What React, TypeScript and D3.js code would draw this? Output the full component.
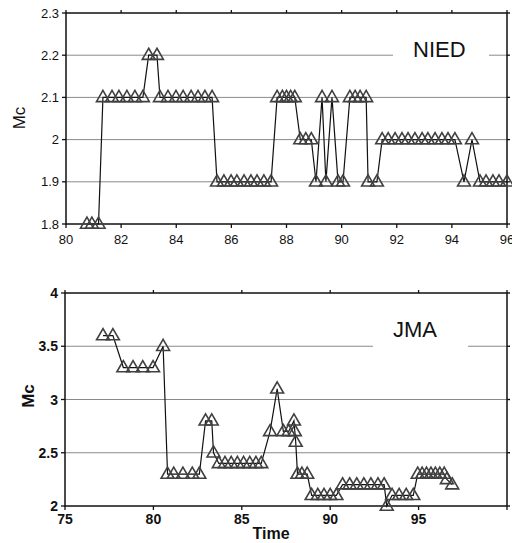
import React from "react";
import * as d3 from "d3";

// NIED series
const niedTime = [
  80.76, 80.94, 81.18,
  81.34, 81.67, 81.92, 82.21, 82.5, 82.79,
  83.0, 83.3,
  83.41, 83.7, 83.99, 84.25, 84.54, 84.79, 85.04, 85.3,
  85.48, 85.73, 85.99, 86.2, 86.46, 86.71, 86.93, 87.18, 87.44,
  87.66, 87.85, 88.0, 88.15, 88.3,
  88.5, 88.7, 88.9,
  89.07, 89.29, 89.43, 89.65, 89.87, 90.05,
  90.3, 90.49, 90.67, 90.89,
  90.96, 91.28,
  91.47, 91.69, 91.94, 92.19, 92.41, 92.66, 92.92, 93.13, 93.39, 93.64, 93.86, 94.11,
  94.44, 94.73,
  95.02, 95.24, 95.49, 95.71, 96.0,
];
const niedMc = [
  1.8, 1.8, 1.8,
  2.1, 2.1, 2.1, 2.1, 2.1, 2.1,
  2.2, 2.2,
  2.1, 2.1, 2.1, 2.1, 2.1, 2.1, 2.1, 2.1,
  1.9, 1.9, 1.9, 1.9, 1.9, 1.9, 1.9, 1.9, 1.9,
  2.1, 2.1, 2.1, 2.1, 2.1,
  2.0, 2.0, 2.0,
  1.9, 2.1, 1.9, 2.1, 1.9, 1.9,
  2.1, 2.1, 2.1, 2.1,
  1.9, 1.9,
  2.0, 2.0, 2.0, 2.0, 2.0, 2.0, 2.0, 2.0, 2.0, 2.0, 2.0, 2.0,
  1.9, 2.0,
  1.9, 1.9, 1.9, 1.9, 1.9,
];

// JMA series
const jmaTime = [
  77.15, 77.71,
  78.3, 78.85, 79.4, 79.98,
  80.55,
  80.8, 81.15, 81.67, 82.2, 82.6,
  82.95, 83.3, 83.4,
  83.7, 84.05, 84.4, 84.75, 85.1, 85.45, 85.8, 86.1,
  86.6, 87.0, 87.35, 87.65, 87.95, 88.0, 88.05,
  88.15, 88.4, 88.7,
  88.95, 89.3, 89.65, 90.0, 90.35,
  90.7, 91.1, 91.5, 91.9, 92.3, 92.7, 93.05,
  93.2,
  93.5, 93.9, 94.3, 94.7,
  94.95, 95.2, 95.45, 95.7, 95.95, 96.2, 96.45,
  96.6, 96.9,
];
const jmaMc = [
  3.6, 3.6,
  3.3, 3.3, 3.3, 3.3,
  3.5,
  2.3, 2.3, 2.3, 2.3, 2.3,
  2.8, 2.8, 2.5,
  2.4, 2.4, 2.4, 2.4, 2.4, 2.4, 2.4, 2.4,
  2.7, 3.1, 2.7, 2.7, 2.8, 2.7, 2.6,
  2.3, 2.3, 2.3,
  2.1, 2.1, 2.1, 2.1, 2.1,
  2.2, 2.2, 2.2, 2.2, 2.2, 2.2, 2.2,
  2.0,
  2.1, 2.1, 2.1, 2.1,
  2.3, 2.3, 2.3, 2.3, 2.3, 2.3, 2.3,
  2.25, 2.2,
];

const niedXTicks = [80, 82, 84, 86, 88, 90, 92, 94, 96];
const niedYTicks = [1.8, 1.9, 2.0, 2.1, 2.2, 2.3];
const jmaXTicks = [75, 80, 85, 90, 95];
const jmaYTicks = [2, 2.5, 3, 3.5, 4];

const FONT = "'Liberation Sans', Arial, Helvetica, sans-serif";

type PanelProps = {
  xs: number[];
  ys: number[];
  xDomain: [number, number];
  yDomain: [number, number];
  xTicks: number[];
  xTickLabels: number[];
  yTicks: number[];
  left: number;
  right: number;
  top: number;
  bottom: number;
  label: string;
  labelX: number;
  labelBaseline: number;
  gapFrom: number;
  gapTo: number;
  gapValue: number;
  bold: boolean;
  yFmt: (v: number) => string;
  xLabelBaseline: number;
  tickFont: number;
  mcX: number;
  mcY: number;
};

function Panel(p: PanelProps) {
  const x = d3.scaleLinear().domain(p.xDomain).range([p.left, p.right]);
  const y = d3.scaleLinear().domain(p.yDomain).range([p.bottom, p.top]);
  const pts = p.xs.map((t, i) => [t, p.ys[i]] as [number, number]);
  const line = d3
    .line<[number, number]>()
    .x((d) => x(d[0]))
    .y((d) => y(d[1]));
  const tri = d3.symbol().type(d3.symbolTriangle).size(72)();
  const weight = p.bold ? "bold" : "normal";
  const inner = p.yTicks.filter(
    (v) => v !== p.yDomain[0] && v !== p.yDomain[1]
  );
  return (
    <g>
      {inner.map((v) =>
        v === p.gapValue ? (
          <g key={"g" + v}>
            <line x1={p.left} x2={p.gapFrom} y1={y(v)} y2={y(v)} stroke="#8a8a8a" strokeWidth={1} />
            <line x1={p.gapTo} x2={p.right} y1={y(v)} y2={y(v)} stroke="#8a8a8a" strokeWidth={1} />
          </g>
        ) : (
          <line key={"g" + v} x1={p.left} x2={p.right} y1={y(v)} y2={y(v)} stroke="#8a8a8a" strokeWidth={1} />
        )
      )}
      <rect
        x={p.left}
        y={p.top}
        width={p.right - p.left}
        height={p.bottom - p.top}
        fill="none"
        stroke="#111"
        strokeWidth={1.5}
      />
      {p.xTicks.map((v) => (
        <g key={"xt" + v}>
          <line x1={x(v)} x2={x(v)} y1={p.bottom} y2={p.bottom + 4} stroke="#111" strokeWidth={1.3} />
          <line x1={x(v)} x2={x(v)} y1={p.top} y2={p.top - 3} stroke="#111" strokeWidth={1.3} />
        </g>
      ))}
      {p.xTickLabels.map((v) => (
        <text
          key={"xl" + v}
          x={x(v)}
          y={p.xLabelBaseline}
          textAnchor="middle"
          fontFamily={FONT}
          fontSize={p.tickFont}
          fontWeight={weight}
          fill="#111"
        >
          {v}
        </text>
      ))}
      {p.yTicks.map((v) => (
        <g key={"yt" + v}>
          <line x1={p.left - 4} x2={p.left} y1={y(v)} y2={y(v)} stroke="#111" strokeWidth={1.3} />
          <line x1={p.right} x2={p.right + 3} y1={y(v)} y2={y(v)} stroke="#111" strokeWidth={1.3} />
          <text
            x={p.left - 7}
            y={y(v)}
            dy="0.36em"
            textAnchor="end"
            fontFamily={FONT}
            fontSize={p.tickFont}
            fontWeight={weight}
            fill="#111"
          >
            {p.yFmt(v)}
          </text>
        </g>
      ))}
      <text
        transform={`translate(${p.mcX},${p.mcY}) rotate(-90)`}
        textAnchor="middle"
        dy="0.36em"
        fontFamily={FONT}
        fontSize={17}
        fontWeight={weight}
        fill="#111"
      >
        Mc
      </text>
      <text
        x={p.labelX}
        y={p.labelBaseline}
        fontFamily={FONT}
        fontSize={22}
        fill="#111"
      >
        {p.label}
      </text>
      <path d={line(pts) || ""} fill="none" stroke="#111" strokeWidth={1.2} />
      {pts.map((d, i) => (
        <path
          key={"m" + i}
          d={tri || ""}
          transform={`translate(${x(d[0])},${y(d[1]) + 0.5})`}
          fill="none"
          stroke="#404040"
          strokeWidth={1.6}
        />
      ))}
    </g>
  );
}

export default function App() {
  return (
    <svg
      width={512}
      height={543}
      style={{ position: "absolute", left: 0, top: 0, background: "#fff" }}
    >
      <rect width={512} height={543} fill="#fff" />
      <Panel
        xs={niedTime}
        ys={niedMc}
        xDomain={[80, 96]}
        yDomain={[1.8, 2.3]}
        xTicks={niedXTicks}
        xTickLabels={niedXTicks}
        yTicks={niedYTicks}
        left={66}
        right={507}
        top={13}
        bottom={224}
        label="NIED"
        labelX={413}
        labelBaseline={57}
        gapFrom={393}
        gapTo={489}
        gapValue={2.2}
        bold={false}
        yFmt={(v) => (Math.abs(v - 2) < 1e-9 ? "2" : v.toFixed(1))}
        xLabelBaseline={244}
        tickFont={13}
        mcX={19}
        mcY={118}
      />
      <Panel
        xs={jmaTime}
        ys={jmaMc}
        xDomain={[75, 100]}
        yDomain={[2, 4]}
        xTicks={[75, 80, 85, 90, 95, 100]}
        xTickLabels={jmaXTicks}
        yTicks={jmaYTicks}
        left={65}
        right={507}
        top={293}
        bottom={506}
        label="JMA"
        labelX={393}
        labelBaseline={337}
        gapFrom={373}
        gapTo={468}
        gapValue={3.5}
        bold={true}
        yFmt={(v) => String(v)}
        xLabelBaseline={524}
        tickFont={14}
        mcX={28}
        mcY={396}
      />
      <text
        x={271}
        y={539}
        textAnchor="middle"
        fontFamily={FONT}
        fontSize={16}
        fontWeight="bold"
        fill="#111"
      >
        Time
      </text>
    </svg>
  );
}
